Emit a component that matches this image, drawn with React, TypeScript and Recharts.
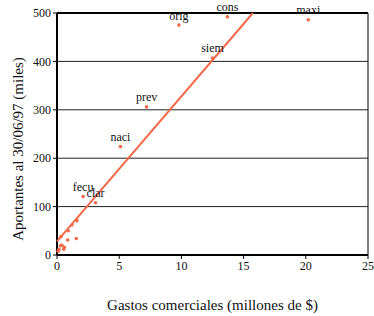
import {
  CartesianGrid,
  LabelList,
  ReferenceLine,
  Scatter,
  ScatterChart,
  XAxis,
  YAxis,
} from "recharts";

// Gastos comerciales (millones de $) vs aportantes (miles)
const labeledFunds = [
  { name: "orig", x: 9.8, y: 475 },
  { name: "cons", x: 13.7, y: 492 },
  { name: "maxi", x: 20.2, y: 486 },
  { name: "siem", x: 12.5, y: 407 },
  { name: "prev", x: 7.2, y: 306 },
  { name: "naci", x: 5.1, y: 224 },
  { name: "fecu", x: 2.1, y: 121 },
  { name: "clar", x: 3.1, y: 108 },
];

const otherFunds = [
  { name: "", x: 1.6, y: 71 },
  { name: "", x: 1.2, y: 62 },
  { name: "", x: 0.9, y: 50 },
  { name: "", x: 0.32, y: 38 },
  { name: "", x: 0.86, y: 31 },
  { name: "", x: 1.55, y: 34 },
  { name: "", x: 0.4, y: 20 },
  { name: "", x: 0.59, y: 16 },
  { name: "", x: 0.54, y: 12 },
  { name: "", x: 0.16, y: 12 },
  { name: "", x: 0.27, y: 19 },
  { name: "", x: 0.1, y: 8 },
];

const fitLine = [
  { x: 0, y: 28 },
  { x: 15.75, y: 500 },
];

const xTicks = [0, 5, 10, 15, 20, 25];
const yTicks = [0, 100, 200, 300, 400, 500];

const ORANGE = "#f26a4a";
const FONT = "'Liberation Serif', 'DejaVu Serif', serif";

const Dot = (props: any) => {
  const { cx, cy } = props;
  if (cx == null || cy == null) return null;
  return <circle cx={cx} cy={cy} r={1.8} fill={ORANGE} />;
};

// rotated y-axis title, placed inside the axis area
const YTitle = (props: any) => {
  const vb = props.viewBox || {};
  const x = vb.x + 18;
  const y = vb.y + vb.height / 2 + 15;
  return (
    <text
      x={x}
      y={y}
      transform={`rotate(-90 ${x} ${y})`}
      textAnchor="middle"
      dominantBaseline="central"
      fontSize={15}
      fill="#111"
      fontFamily={FONT}
    >
      Aportantes al 30/06/97 (miles)
    </text>
  );
};

export default function App() {
  const allFunds = [...labeledFunds, ...otherFunds];
  return (
    <div style={{ position: "absolute", left: 0, top: 0, background: "#fff" }}>
      <ScatterChart
        width={374}
        height={316}
        margin={{ top: 13, right: 6, left: 0, bottom: 0 }}
        style={{ fontFamily: FONT }}
      >
        <CartesianGrid horizontal vertical={false} stroke="#222" strokeWidth={1} />
        <XAxis
          type="number"
          dataKey="x"
          domain={[0, 25]}
          ticks={xTicks}
          tick={{ fontSize: 12, fill: "#111", fontFamily: FONT }}
          tickSize={4}
          tickLine={{ stroke: "#000" }}
          axisLine={{ stroke: "#000", strokeWidth: 2 }}
          height={61}
          label={{
            value: "Gastos comerciales (millones de $)",
            position: "insideBottom",
            offset: 6,
            style: { fontSize: 15, fill: "#111", fontFamily: FONT },
          }}
        />
        <YAxis
          type="number"
          dataKey="y"
          domain={[0, 500]}
          ticks={yTicks}
          tick={{ fontSize: 12, fill: "#111", fontFamily: FONT }}
          tickSize={4}
          tickLine={{ stroke: "#000" }}
          axisLine={{ stroke: "#000", strokeWidth: 2 }}
          width={57}
          label={<YTitle />}
        />
        <ReferenceLine y={500} stroke="#000" strokeWidth={2} />
        <ReferenceLine x={25} stroke="#000" strokeWidth={1} />
        <Scatter
          data={fitLine}
          line={{ stroke: ORANGE, strokeWidth: 2 }}
          shape={() => null}
          isAnimationActive={false}
        />
        <Scatter data={allFunds} shape={<Dot />} isAnimationActive={false}>
          <LabelList
            dataKey="name"
            position="top"
            offset={1}
            style={{ fontSize: 12, fill: "#111", fontFamily: FONT }}
          />
        </Scatter>
      </ScatterChart>
    </div>
  );
}
